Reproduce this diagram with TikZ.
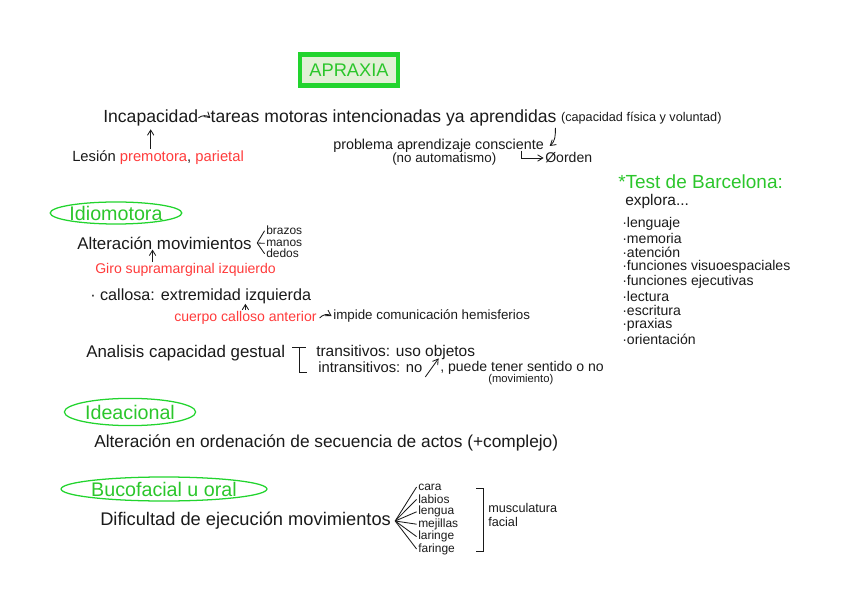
\documentclass[tikz,border=0pt]{standalone}
\usepackage{fontspec}
\setmainfont{Liberation Sans}
\usetikzlibrary{arrows.meta,positioning,shapes.geometric,calc}
\definecolor{Ink}{HTML}{1A1A1A}
\definecolor{Green}{HTML}{22D42E}
\definecolor{TitleGreen}{HTML}{2BC62B}
\definecolor{LightGreen}{HTML}{E2F0D6}
\definecolor{Red}{HTML}{FF3B3B}
\tikzset{
  txt/.style={anchor=west, inner sep=0pt, text=Ink, font=\fontsize{12.5}{14}\selectfont},
  smalltxt/.style={txt, font=\fontsize{9.5}{11}\selectfont},
  listtxt/.style={txt, font=\fontsize{10}{11}\selectfont},
  redtxt/.style={txt, text=Red},
  greentxt/.style={txt, text=TitleGreen, font=\fontsize{13.5}{15}\selectfont},
  titlebox/.style={draw=Green, line width=3.5pt, fill=LightGreen, text=TitleGreen, minimum width=2.45cm, minimum height=0.78cm, inner sep=0pt, font=\fontsize{13}{15}\selectfont},
  oval/.style={ellipse, draw=Green, line width=0.9pt, text=TitleGreen, inner sep=0pt, font=\fontsize{14}{16}\selectfont},
  arr/.style={-{Straight Barb[length=1.3mm,width=1.6mm]}, line width=0.6pt, draw=Ink},
  ink/.style={line width=0.6pt, draw=Ink}
}
\begin{document}
\begin{tikzpicture}[x=0.025cm,y=-0.025cm]
\useasboundingbox (0,0) rectangle (848,609);

\node[titlebox] (apraxia) at (349,70) {APRAXIA};

% definicion
\node[txt] (incap) at (103,118) {Incapacidad};
\node[txt,right=3mm of incap] (tareas) {tareas motoras intencionadas ya aprendidas};
\node[smalltxt,font=\fontsize{9}{11}\selectfont,right=1mm of tareas] (capac) {(capacidad física y voluntad)};
\node[txt,font=\fontsize{10.5}{12}\selectfont] (lesion) at (72,158) {Lesión \textcolor{Red}{premotora}, \textcolor{Red}{parietal}};
\draw[arr] (incap.east) to[bend left=40] (tareas.west);
\draw[arr] (incap.south |- lesion.north) ++(0,-2) -- ([yshift=-2pt]incap.south);

\node[txt,font=\fontsize{10.2}{12}\selectfont] (problema) at (333,146) {problema aprendizaje consciente};
\node[smalltxt] (noauto) at (392,159) {(no automatismo)};
\node[listtxt] (orden) at (545,158) {Øorden};
\draw[arr] ([xshift=-1pt,yshift=-1pt]tareas.south east) to[out=-90,in=40] ([xshift=4pt]problema.east);
\coordinate (hook) at (521,151);
\draw[arr] (hook) |- ([xshift=-1pt]orden.west);

% test de Barcelona
\node[greentxt] (test) at (618,182) {*Test de Barcelona:};
\node[listtxt,font=\fontsize{11}{12}\selectfont] (explora) at (625,202) {explora...};
\foreach \t [count=\i from 0] in {lenguaje,memoria,atención,funciones visuoespaciales,funciones ejecutivas,lectura,escritura,praxias,orientación}
  \node[listtxt] (item\i) at (622,{224+14.4*\i}) {·\t};

% ideomotora
\node[oval,minimum width=3.25cm,minimum height=0.55cm] (idio) at (116,213) {Idiomotora};
\node[txt,font=\fontsize{12}{14}\selectfont] (alter) at (77,243) {Alteración movimientos};
\coordinate[right=1.3mm of alter] (apex1);
\foreach \t [count=\i from 0] in {brazos,manos,dedos}
  \node[listtxt,anchor=base west,font=\fontsize{8.5}{10}\selectfont] (parte\i) at (266,{235+11.5*\i}) {\t};
\foreach \i in {0,1,2}
  \draw[ink] (apex1) -- ([xshift=-1pt]parte\i.west);
\node[redtxt,font=\fontsize{10}{12}\selectfont] (giro) at (95,270) {Giro supramarginal izquierdo};
\coordinate (girotail) at ($(giro.north)+(-33,-1)$);
\draw[arr] (girotail) -- (girotail |- alter.south);

\node[txt,font=\fontsize{11.5}{13}\selectfont] (callosa) at (90,296) {· callosa: extremidad izquierda};
\node[redtxt,font=\fontsize{10}{12}\selectfont] (calloso) at (174,318) {cuerpo calloso anterior};
\node[txt,font=\fontsize{9.5}{11}\selectfont] (impide) at (333,316) {impide comunicación hemisferios};
\coordinate (callotail) at ($(calloso.north)+(0,-1)$);
\draw[arr] (callotail) -- (callotail |- callosa.south);
\draw[arr] ([xshift=2pt]calloso.east) to[bend left=40] ([xshift=-1pt]impide.west);

\node[txt,font=\fontsize{12}{14}\selectfont] (gestual) at (86,353) {Analisis capacidad gestual};
\node[txt,font=\fontsize{11}{12}\selectfont] (trans) at (316,353) {transitivos: uso objetos};
\node[txt,font=\fontsize{10.5}{12}\selectfont] (intr1) at (318,367) {intransitivos: no};
\node[txt,font=\fontsize{10}{12}\selectfont] (intr2) at (440,368) {, puede tener sentido o no};
\node[smalltxt,font=\fontsize{8}{10}\selectfont] (movim) at (488,380) {(movimiento)};
\draw[ink] (292,347) -- (306,347) (299,347) -- (299,372) -- (307,372);
\draw[arr] ([xshift=2pt,yshift=-3pt]intr1.south east) -- ([xshift=-1pt,yshift=2pt]intr2.north west);

% ideacional
\node[oval,minimum width=3.28cm,minimum height=0.68cm] (idea) at (130,412) {Ideacional};
\node[txt,font=\fontsize{12.3}{14}\selectfont] (secuencia) at (94,443) {Alteración en ordenación de secuencia de actos (+complejo)};

% bucofacial
\node[oval,minimum width=4.4cm,minimum height=0.6cm] (buco) at (164,489) {Bucofacial u oral};
\node[txt,font=\fontsize{13}{15}\selectfont] (dificultad) at (100,521) {Dificultad de ejecución movimientos};
\coordinate[right=1mm of dificultad] (apex2);
\foreach \t [count=\i from 0] in {cara,labios,lengua,mejillas,laringe,faringe}
  \node[listtxt,font=\fontsize{8.5}{10}\selectfont] (zona\i) at (418,{487+12.4*\i}) {\t};
\foreach \i in {0,...,5}
  \draw[ink] (apex2) -- ([xshift=-1pt]zona\i.west);
\draw[ink] (476,488) -- (483,488) -- (483,551) -- (476,551);
\node[listtxt,font=\fontsize{9}{10}\selectfont] (musc) at (488,508) {musculatura};
\node[listtxt,font=\fontsize{9}{10}\selectfont] (facial) at (488,522) {facial};
\end{tikzpicture}
\end{document}
